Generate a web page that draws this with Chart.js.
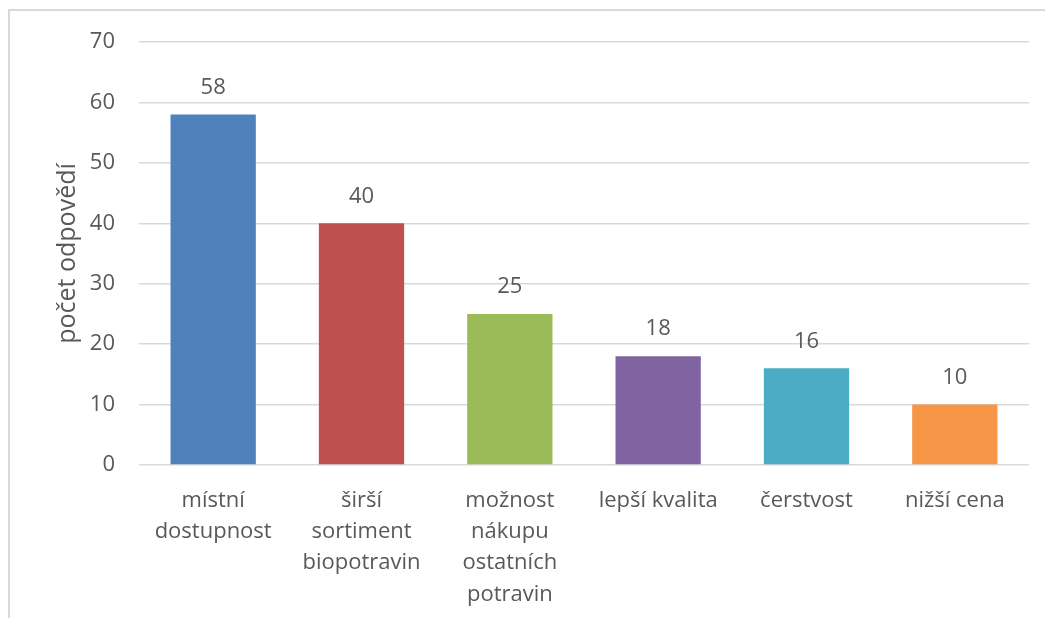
<!DOCTYPE html>
<html>
<head>
<meta charset="utf-8">
<script src="https://cdn.jsdelivr.net/npm/chart.js@4"></script>
<style>
html,body{margin:0;padding:0;background:#fff;}
#wrap{position:relative;width:1045px;height:618px;overflow:hidden;}
#frame{position:absolute;left:8px;top:9px;width:1100px;height:700px;border:2px solid #d9d9d9;box-sizing:border-box;}
canvas{position:absolute;left:0;top:0;}
</style>
</head>
<body>
<div id="wrap"><div id="frame"></div><canvas id="c" width="1045" height="618"></canvas></div>
<script>
const categories = [["místní","dostupnost"],["širší","sortiment","biopotravin"],["možnost","nákupu","ostatních","potravin"],"lepší kvalita","čerstvost","nižší cena"];
const values = [58,40,25,18,16,10];
const colors = ["#4F81BD","#C0504D","#9BBB59","#8064A2","#4BACC6","#F79646"];
const yTitle = "počet odpovědí";
const yMin = 0, yMax = 70, yStep = 10;

const FONT = "'Open Sans', Lato, sans-serif";
const TXT = "#595959";
const FS = 22;

const labelPlugin = {
  id:'vals',
  afterDatasetsDraw(chart){
    const ctx = chart.ctx;
    const meta = chart.getDatasetMeta(0);
    ctx.save();
    ctx.font = FS + "px " + FONT;
    ctx.fillStyle = TXT;
    ctx.textAlign = 'center';
    ctx.textBaseline = 'middle';
    meta.data.forEach((bar,i)=>{
      ctx.fillText(String(values[i]), bar.x, bar.y - 27);
    });
    ctx.restore();
  }
};

new Chart(document.getElementById('c'), {
  type:'bar',
  data:{labels:categories,datasets:[{data:values,backgroundColor:colors,barPercentage:0.575,categoryPercentage:1}]},
  options:{
    responsive:false,
    animation:false,
    devicePixelRatio:1,
    layout:{padding:{left:0,top:42,right:16,bottom:0}},
    plugins:{legend:{display:false},tooltip:{enabled:false}},
    scales:{
      x:{
        grid:{display:false},
        border:{display:false},
        ticks:{color:TXT,font:{family:FONT,size:FS,lineHeight:1.42},padding:12,maxRotation:0,autoSkip:false},
        afterFit(s){s.height=153;}
      },
      y:{
        min:yMin,max:yMax,
        grid:{color:"#d9d9d9",lineWidth:1.5,drawTicks:false},
        border:{display:false},
        ticks:{stepSize:yStep,color:TXT,font:{family:FONT,size:FS},padding:24},
        title:{display:true,text:yTitle,color:TXT,font:{family:FONT,size:25,lineHeight:1.2},padding:{top:53,bottom:0}},
        afterFit(s){s.width=139;}
      }
    }
  },
  plugins:[labelPlugin]
});
</script>
</body>
</html>
